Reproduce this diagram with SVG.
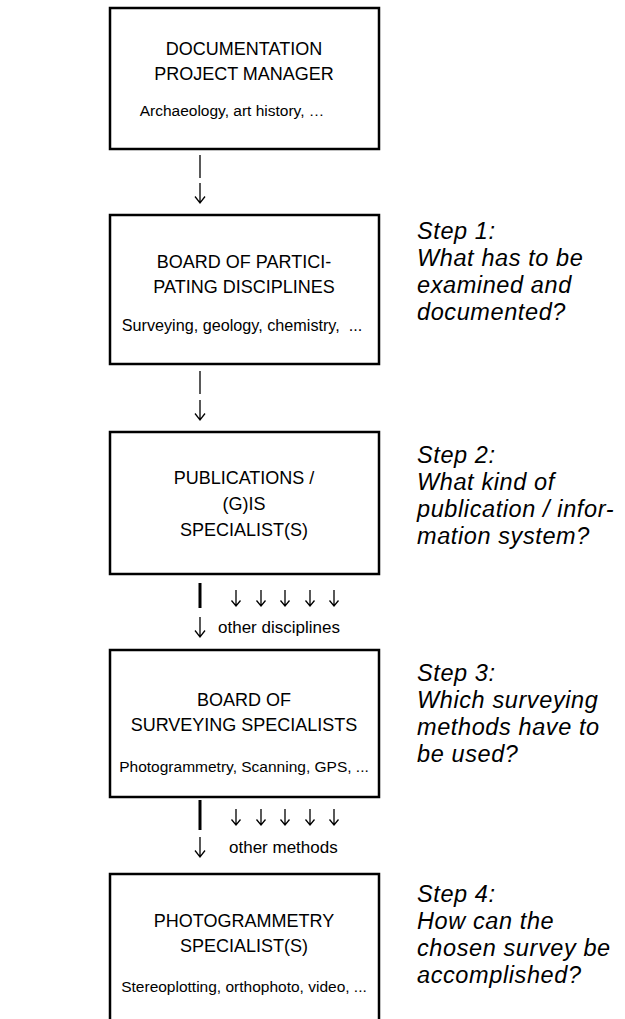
<svg xmlns="http://www.w3.org/2000/svg" xmlns:xlink="http://www.w3.org/1999/xlink" width="625" height="1019" viewBox="0 0 625 1019">
<style>
.box{fill:#fff;stroke:#000;stroke-width:2.5}
.t{font-family:"Liberation Sans",Arial,sans-serif;font-size:18px;fill:#000;text-anchor:middle}
.s{font-family:"Liberation Sans",Arial,sans-serif;font-size:15.5px;fill:#000;text-anchor:middle}
.q{font-family:"Liberation Sans",Arial,sans-serif;font-size:23.5px;letter-spacing:0.6px;font-style:italic;fill:#000}
.o{font-family:"Liberation Sans",Arial,sans-serif;font-size:17px;fill:#000}
.thin{stroke:#000;stroke-width:1.3}
.thick{stroke:#000;stroke-width:3}
.arr{fill:none;stroke:#000;stroke-width:1.3}
</style>
<defs>
<path id="big" class="arr" d="M0,0 V20 M-5,13.5 L0,20 L5,13.5"/>
<path id="small" class="arr" d="M0,0 V16 M-4.5,10.5 L0,16 L4.5,10.5"/>
</defs>
<rect width="625" height="1019" fill="#fff"/>
<g id="connectors">
<line class="thin" x1="200" y1="155" x2="200" y2="178"/>
<use xlink:href="#big" x="200" y="183"/>
<line class="thin" x1="200" y1="371" x2="200" y2="394"/>
<use xlink:href="#big" x="200" y="400"/>
<line class="thick" x1="200" y1="583" x2="200" y2="608"/>
<use xlink:href="#big" x="200" y="617"/>
<use xlink:href="#small" x="236" y="590"/>
<use xlink:href="#small" x="261" y="590"/>
<use xlink:href="#small" x="285" y="590"/>
<use xlink:href="#small" x="310" y="590"/>
<use xlink:href="#small" x="334" y="590"/>
<text class="o" x="218" y="633">other disciplines</text>
<line class="thick" x1="200" y1="800" x2="200" y2="830"/>
<use xlink:href="#big" x="200" y="837"/>
<use xlink:href="#small" x="236" y="809"/>
<use xlink:href="#small" x="261" y="809"/>
<use xlink:href="#small" x="285" y="809"/>
<use xlink:href="#small" x="310" y="809"/>
<use xlink:href="#small" x="334" y="809"/>
<text class="o" x="229" y="853">other methods</text>
</g>
<g id="manager">
<rect class="box" x="110" y="8" width="269" height="141"/>
<text class="t" x="244" y="55">DOCUMENTATION</text>
<text class="t" x="244" y="80">PROJECT MANAGER</text>
<text class="s" x="232" y="116">Archaeology, art history, …</text>
</g>
<g id="board">
<rect class="box" x="110" y="215" width="269" height="149"/>
<text class="t" x="244" y="268">BOARD OF PARTICI-</text>
<text class="t" x="244" y="293">PATING DISCIPLINES</text>
<text class="s" x="242" y="331" style="font-size:16.2px">Surveying, geology, chemistry,&#160; ...</text>
</g>
<g id="publications">
<rect class="box" x="110" y="432" width="269" height="142"/>
<text class="t" x="244" y="484">PUBLICATIONS /</text>
<text class="t" x="244" y="510">(G)IS</text>
<text class="t" x="244" y="536">SPECIALIST(S)</text>
</g>
<g id="surveying">
<rect class="box" x="110" y="650" width="269" height="147"/>
<text class="t" x="244" y="706">BOARD OF</text>
<text class="t" x="244" y="731">SURVEYING SPECIALISTS</text>
<text class="s" x="244" y="772">Photogrammetry, Scanning, GPS, ...</text>
</g>
<g id="photogrammetry">
<rect class="box" x="110" y="874" width="269" height="150"/>
<text class="t" x="244" y="927">PHOTOGRAMMETRY</text>
<text class="t" x="244" y="952">SPECIALIST(S)</text>
<text class="s" x="244" y="992">Stereoplotting, orthophoto, video, ...</text>
</g>
<g id="steps">
<text class="q"><tspan x="417" y="239">Step 1:</tspan><tspan x="417" y="266">What has to be</tspan><tspan x="417" y="293">examined and</tspan><tspan x="417" y="320">documented?</tspan></text>
<text class="q"><tspan x="417" y="463">Step 2:</tspan><tspan x="417" y="490">What kind of</tspan><tspan x="417" y="517">publication / infor-</tspan><tspan x="417" y="544">mation system?</tspan></text>
<text class="q"><tspan x="417" y="681">Step 3:</tspan><tspan x="417" y="708">Which surveying</tspan><tspan x="417" y="735">methods have to</tspan><tspan x="417" y="762">be used?</tspan></text>
<text class="q"><tspan x="417" y="902">Step 4:</tspan><tspan x="417" y="929">How can the</tspan><tspan x="417" y="956">chosen survey be</tspan><tspan x="417" y="983">accomplished?</tspan></text>
</g>
</svg>
